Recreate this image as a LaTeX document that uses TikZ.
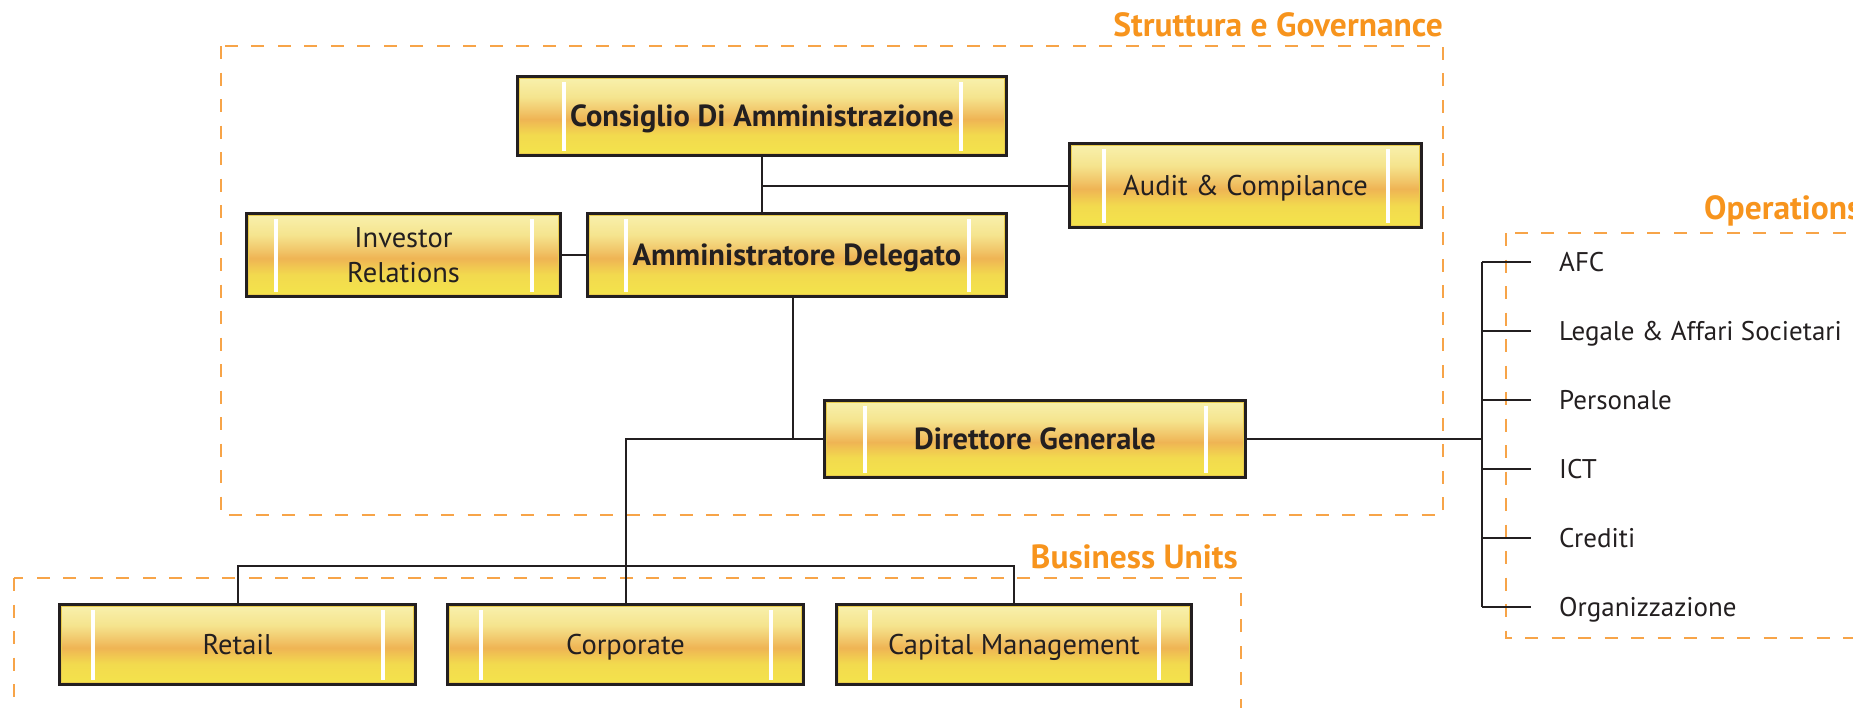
\documentclass[tikz,border=0pt]{standalone}
\usepackage{fontspec}
\setmainfont{PT Sans}
\usetikzlibrary{calc}

\definecolor{ink}{HTML}{231F20}
\definecolor{dashorange}{HTML}{F7A448}
\definecolor{titleorange}{HTML}{F7941D}
\definecolor{ytop}{HTML}{F8F1AE}
\definecolor{ymid}{HTML}{F5E48E}
\definecolor{yband}{HTML}{EFB454}
\definecolor{ylow}{HTML}{F2DA4E}
\definecolor{ybot}{HTML}{F4E44B}
\definecolor{yrim}{HTML}{E9CB4B}

% golden gradient of the boxes: pale top, orange band near the middle, yellow bottom
\pgfdeclareverticalshading{goldbar}{100bp}{%
  color(0bp)=(ybot); color(25bp)=(ybot); color(38bp)=(ylow);
  color(48bp)=(yband); color(52bp)=(yband!70!ymid); color(62bp)=(ymid);
  color(75bp)=(ytop); color(100bp)=(ytop)}

\tikzset{
  barinset/.store in=\barinset, barinset=33pt,
  orgbox/.style={draw=ink, line width=3pt, shading=goldbar, inner sep=0pt,
    text=ink, align=center, font=\fontsize{28.5}{35}\selectfont,
    path picture={
      \draw[yrim, line width=5pt] (path picture bounding box.south west)
        rectangle (path picture bounding box.north east);
      \fill[white] ([xshift=\barinset, yshift=5pt]path picture bounding box.south west)
        rectangle ([xshift=\barinset+4pt, yshift=-5pt]path picture bounding box.north west);
      \fill[white] ([xshift=-\barinset, yshift=5pt]path picture bounding box.south east)
        rectangle ([xshift=-\barinset-4pt, yshift=-5pt]path picture bounding box.north east);
    }},
  oneline/.style={text height=20pt, text depth=0pt},
  boldbox/.style={font=\fontsize{30.5}{36}\selectfont\bfseries},
  link/.style={draw=ink, line width=2pt},
  groupframe/.style={draw=dashorange, line width=2pt, dash pattern=on 13pt off 13.5pt},
  grouptitle/.style={text=titleorange, font=\fontsize{33.5}{40}\selectfont\bfseries, inner sep=0pt},
  opitem/.style={text=ink, font=\fontsize{27}{32}\selectfont, inner sep=0pt,
    anchor=west, text height=19pt, text depth=0pt},
}

\begin{document}
\begin{tikzpicture}[x=1pt, y=-1pt]
\useasboundingbox (0,0) rectangle (1853,707);

% group frames and their titles
\draw[groupframe] (221,46) rectangle (1443,515);
\node[grouptitle, anchor=base east] (tgov) at (1443,36) {Struttura e Governance};
\draw[groupframe] (14,578) rectangle (1241,760);
\node[grouptitle, anchor=base east] (tbu) at (1238,568) {Business Units};
\draw[groupframe] (1506,233) rectangle (1920,638);
\node[grouptitle, anchor=base west] (tops) at (1704,219) {Operations};

% governance boxes
\node[orgbox, boldbox, oneline, minimum width=489pt, minimum height=79pt, barinset=44pt]
  (cda) at (762,116) {Consiglio Di Amministrazione};
\node[orgbox, oneline, minimum width=352pt, minimum height=84pt, barinset=32pt]
  (audit) at (1245.5,185.5) {Audit \& Compilance};
\node[orgbox, minimum width=314pt, minimum height=83pt, barinset=27pt]
  (ir) at (403.5,255) {Investor\\Relations};
\node[orgbox, boldbox, oneline, minimum width=419pt, minimum height=83pt, barinset=36pt]
  (ad) at (797,255) {Amministratore Delegato};
\node[orgbox, boldbox, oneline, minimum width=421pt, minimum height=77pt, barinset=38pt]
  (dg) at (1035,439) {Direttore Generale};

% business units
\node[orgbox, oneline, minimum width=356pt, minimum height=80pt, barinset=31pt]
  (retail) at (237.5,644.5) {Retail};
\node[orgbox, oneline, minimum width=356pt, minimum height=80pt, barinset=31pt]
  (corp) at (625.5,644.5) {Corporate};
\node[orgbox, oneline, minimum width=355pt, minimum height=80pt, barinset=31pt]
  (cap) at (1014,644.5) {Capital Management};

% operations list
\node[opitem] (op1) at (1559,262) {AFC};
\node[opitem] (op2) at (1559,331) {Legale \& Affari Societari};
\node[opitem] (op3) at (1559,400) {Personale};
\node[opitem] (op4) at (1559,469) {ICT};
\node[opitem] (op5) at (1559,538) {Crediti};
\node[opitem] (op6) at (1559,607) {Organizzazione};

\coordinate (spine) at (1482,0);
\coordinate (bus) at (625.5,566);
\coordinate (addrop) at (793,0);

% connectors
\draw[link] (cda.south) -- (cda.south |- ad.north);
\draw[link] (cda.south |- audit.west) -- (audit.west);
\draw[link] (ir.east) -- (ad.west);
\draw[link] (addrop |- ad.south) -- (addrop |- dg.west);
\draw[link] (corp.north) -- (corp.north |- dg.west) -- (dg.west);
\draw[link] (retail.north) |- (bus) -| (cap.north);
\draw[link] (dg.east) -- (dg.east -| spine);
\draw[link] (op1.west -| spine) -- (op6.west -| spine);
\foreach \k in {1,...,6}
  \draw[link] (op\k.west -| spine) -- ([xshift=-28pt]op\k.west);
\end{tikzpicture}
\end{document}
